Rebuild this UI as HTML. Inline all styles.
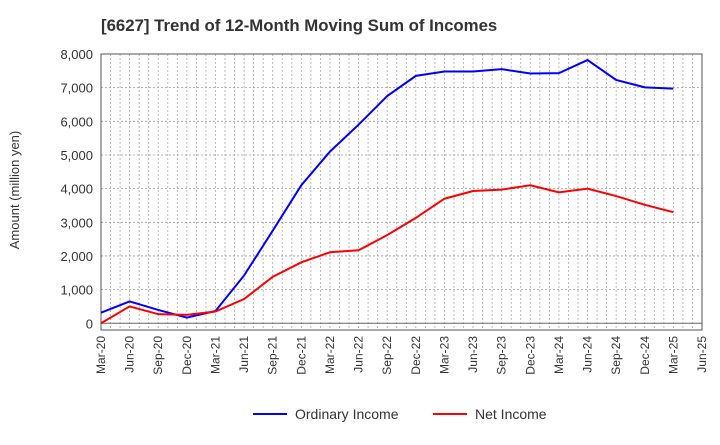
<!DOCTYPE html>
<html><head><meta charset="utf-8"><style>
body{margin:0;background:#fff;font-family:"Liberation Sans",sans-serif}
</style></head><body>
<svg id="chart" width="720" height="440" xmlns="http://www.w3.org/2000/svg" font-family="Liberation Sans, sans-serif">
<text x="101" y="31" font-size="16.8" font-weight="bold" fill="#333">[6627]  Trend of 12-Month Moving Sum of Incomes</text>
<text transform="translate(19,190) rotate(-90)" text-anchor="middle" font-size="13" fill="#333">Amount (million yen)</text>
<g id="grid"></g><g id="axes"></g><g id="series"></g>
<g>
<line x1="253" y1="414" x2="287" y2="414" stroke="#0000ff" stroke-width="2"/>
<text x="295" y="419" font-size="14" fill="#333">Ordinary Income</text>
<line x1="433" y1="414" x2="467" y2="414" stroke="#ff0000" stroke-width="2"/>
<text x="475" y="419" font-size="14" fill="#333">Net Income</text>
</g>
</svg>
<script>
const categories=["Mar-20","Jun-20","Sep-20","Dec-20","Mar-21","Jun-21","Sep-21","Dec-21","Mar-22","Jun-22","Sep-22","Dec-22","Mar-23","Jun-23","Sep-23","Dec-23","Mar-24","Jun-24","Sep-24","Dec-24","Mar-25","Jun-25"];
const ordinaryIncome=[316,650,395,170,365,1420,2750,4100,5100,5900,6750,7350,7480,7480,7550,7420,7430,7820,7230,7010,6970];
const netIncome=[0,500,270,250,350,720,1380,1810,2110,2170,2620,3130,3700,3930,3970,4100,3890,4000,3780,3520,3300];
const yTicks=[0,1000,2000,3000,4000,5000,6000,7000,8000];
const NS="http://www.w3.org/2000/svg";
const L=101,R=702,T=54,B=330,yMin=-200,yMax=8000;
const x=i=>L+i*(R-L)/(categories.length-1);
const y=v=>T+(yMax-v)/(yMax-yMin)*(B-T);
function mk(tag,attrs,parent){const e=document.createElementNS(NS,tag);for(const k in attrs)e.setAttribute(k,attrs[k]);parent.appendChild(e);return e;}
const grid=document.getElementById('grid'),axes=document.getElementById('axes'),series=document.getElementById('series');
for(let m=1;m<(categories.length-1)*3;m++){const xx=L+m*(R-L)/((categories.length-1)*3);
const g=mk('line',{x1:xx,x2:xx,y1:T,y2:B,stroke:'#aaa','stroke-width':0.8,'stroke-dasharray':'2,2'},grid);

}
yTicks.forEach(v=>{const g=mk('line',{x1:L,x2:R,y1:y(v),y2:y(v),stroke:v===0?'#666':'#999','stroke-width':v===0?1:0.8,'stroke-dasharray':v===0?'':'2,2'},grid);


const t=mk('text',{x:L-8,y:y(v)+5,'text-anchor':'end','font-size':13,fill:'#333'},axes);t.textContent=v.toLocaleString('en-US');

});
const box=mk('rect',{x:L,y:T,width:R-L,height:B-T,fill:'none',stroke:'#555','stroke-width':1},axes);


categories.forEach((c,i)=>{const t=mk('text',{transform:`translate(${x(i)+4},${B+6}) rotate(-90)`,'text-anchor':'end','font-size':12,fill:'#333'},axes);t.textContent=c;

});
function line(data,color,name){const p=mk('polyline',{points:data.map((v,i)=>x(i)+','+y(v)).join(' '),fill:'none',stroke:color,'stroke-width':2},series);

}
line(ordinaryIncome,'#0000ff','ordinary-income-line');
line(netIncome,'#ff0000','net-income-line');
</script>
</body></html>
